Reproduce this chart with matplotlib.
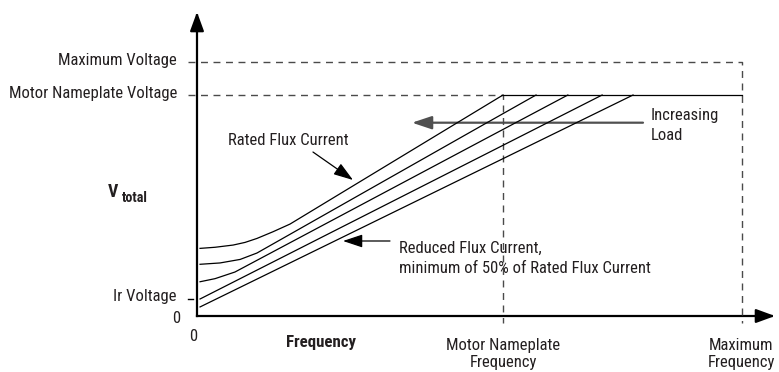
import numpy as np
import matplotlib
matplotlib.use('Agg')
import matplotlib.pyplot as plt
from matplotlib import font_manager
from matplotlib.patches import FancyArrowPatch

# ----------------------------
# Data (per-unit: frequency / nameplate frequency, voltage / nameplate voltage)
# ----------------------------
f_nameplate = 1.0
f_max = 1.781
v_nameplate = 1.0
v_max = 1.149
v_ir = 0.077

# V/Hz curves, from rated flux current (top) down to reduced flux current (bottom)
curve_f = [
    [0.010, 0.059, 0.118, 0.157, 0.196, 0.248, 0.304, 1.000],
    [0.010, 0.075, 0.141, 0.196, 0.925, 1.108],
    [0.010, 0.059, 0.124, 0.925, 1.212],
    [0.010, 1.324],
    [0.010, 1.425],
]
curve_v = [
    [0.306, 0.311, 0.321, 0.333, 0.351, 0.381, 0.416, 1.000],
    [0.234, 0.240, 0.256, 0.285, 0.857, 1.000],
    [0.155, 0.169, 0.199, 0.789, 1.000],
    [0.077, 1.000],
    [0.041, 1.000],
]

y_labels = ["Maximum Voltage", "Motor Nameplate Voltage", "Ir Voltage", "0"]
y_label_pos = [1.136, 0.985, 0.069, -0.033]

# ----------------------------
# Fonts: prefer a condensed sans if one is installed
# ----------------------------
names = {f.name for f in font_manager.fontManager.ttflist}
fam = ['Liberation Sans', 'DejaVu Sans']
for cand in ['Liberation Sans Narrow', 'Roboto Condensed', 'Open Sans Condensed', 'Noto Sans Condensed']:
    if cand in names:
        fam = [cand, 'DejaVu Sans']
        break
plt.rcParams['font.family'] = fam
plt.rcParams['lines.scale_dashes'] = False

txt = '#231f20'
dash_col = '#4a4a4a'

# ----------------------------
# Figure: axes fill the canvas, spines replaced by arrows
# ----------------------------
fig = plt.figure(figsize=(7.79, 3.72), dpi=100)
ax = fig.add_axes([0, 0, 1, 1])
ax.set_xlim(-0.6438, 1.902)
ax.set_ylim(-0.2534, 1.4299)
ax.axis('off')

# size the font so the text widths come out close to the reference
long_line = "minimum of 50% of Rated Flux Current"
probe = ax.text(0, 0, long_line, fontsize=10)
fig.canvas.draw()
w = probe.get_window_extent().width
probe.remove()
fs = min(10 * 250 / w, 13.5)

# axis arrows
for end in [(1.889, 0), (0, 1.3756)]:
    ax.add_patch(FancyArrowPatch((0, 0), end, arrowstyle='-|>,head_length=1.15,head_width=0.42',
                                 mutation_scale=10, lw=1.6, color='black', shrinkA=0, shrinkB=0,
                                 capstyle='projecting'))

# dashed reference lines
dash = (0, (5, 4))
ax.plot([-0.029, f_max, f_max], [v_max, v_max, -0.032], ls=dash, color=dash_col, lw=1.0)
ax.plot([-0.029, f_nameplate, f_nameplate], [v_nameplate, v_nameplate, -0.032], ls=dash, color=dash_col, lw=1.0)
ax.plot([-0.029, -0.012], [v_ir, v_ir], color='black', lw=1.0)

# curves
for fx, vy in zip(curve_f, curve_v):
    ax.plot(fx, vy, color='black', lw=0.9, solid_joinstyle='round')
ax.plot([f_nameplate, f_max], [v_nameplate, v_nameplate], color='black', lw=0.9)

# ----------------------------
# Labels
# ----------------------------
for lab, yp in zip(y_labels, y_label_pos):
    xr = -0.0556 if lab == "0" else -0.0654
    ax.text(xr, yp, lab, ha='right', va='baseline', fontsize=fs, color=txt)

ax.text(-0.013, -0.113, "0", ha='center', va='baseline', fontsize=fs, color=txt)
ax.text(0.405, -0.1416, "Frequency", ha='center', va='baseline', fontsize=fs * 1.02, fontweight='bold', color=txt)
ax.text(-0.2908, 0.5398, "V", ha='left', va='baseline', fontsize=fs * 1.08, fontweight='bold', color=txt)
ax.text(-0.2440, 0.5172, "total", ha='left', va='baseline', fontsize=fs * 0.85, fontweight='bold', color=txt)

for xc, l1 in [(f_nameplate, "Motor Nameplate"), (f_max - 0.003, "Maximum")]:
    ax.text(xc, -0.1538, l1, ha='center', va='baseline', fontsize=fs, color=txt)
    ax.text(xc, -0.2330, "Frequency", ha='center', va='baseline', fontsize=fs, color=txt)

ax.text(0.1013, 0.7738, "Rated Flux Current", ha='left', va='baseline', fontsize=fs, color=txt)
ax.text(1.484, 0.8869, "Increasing", ha='left', va='baseline', fontsize=fs, color=txt)
ax.text(1.484, 0.7964, "Load", ha='left', va='baseline', fontsize=fs, color=txt)
ax.text(0.660, 0.2837, "Reduced Flux Current,", ha='left', va='baseline', fontsize=fs, color=txt)
ax.text(0.660, 0.1932, long_line, ha='left', va='baseline', fontsize=fs, color=txt)

# annotation arrows
arrows = [((0.379, 0.742), (0.5098, 0.6154), 'black', 0.9),
          ((1.4575, 0.8747), (0.7026, 0.8747), '#505050', 1.6),
          ((0.6307, 0.3394), (0.4771, 0.3394), 'black', 0.9)]
for start, end, col, lw in arrows:
    ax.add_patch(FancyArrowPatch(start, end, arrowstyle='-|>,head_length=1.2,head_width=0.4',
                                 mutation_scale=10, lw=lw, color=col, shrinkA=0, shrinkB=0))

plt.savefig("out.png", dpi=100)
